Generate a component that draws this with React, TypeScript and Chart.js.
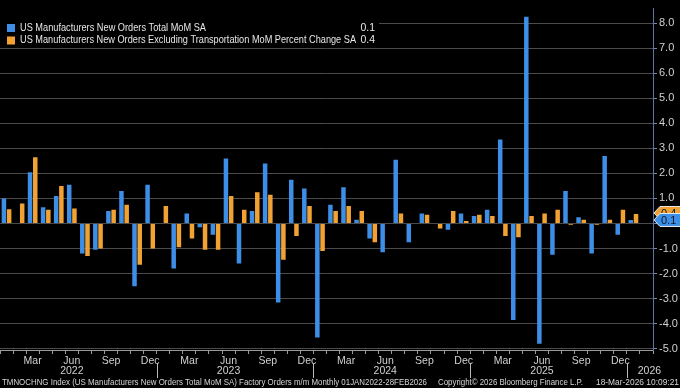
import React, { useEffect, useRef } from 'react';
import { Chart, registerables } from 'chart.js';

Chart.register(...registerables);

const categories = [
  'Jan 2022', 'Feb 2022', 'Mar 2022', 'Apr 2022', 'May 2022', 'Jun 2022', 'Jul 2022', 'Aug 2022', 'Sep 2022', 'Oct 2022', 'Nov 2022', 'Dec 2022',
  'Jan 2023', 'Feb 2023', 'Mar 2023', 'Apr 2023', 'May 2023', 'Jun 2023', 'Jul 2023', 'Aug 2023', 'Sep 2023', 'Oct 2023', 'Nov 2023', 'Dec 2023',
  'Jan 2024', 'Feb 2024', 'Mar 2024', 'Apr 2024', 'May 2024', 'Jun 2024', 'Jul 2024', 'Aug 2024', 'Sep 2024', 'Oct 2024', 'Nov 2024', 'Dec 2024',
  'Jan 2025', 'Feb 2025', 'Mar 2025', 'Apr 2025', 'May 2025', 'Jun 2025', 'Jul 2025', 'Aug 2025', 'Sep 2025', 'Oct 2025', 'Nov 2025', 'Dec 2025',
  'Jan 2026', 'Feb 2026',
];

const totalMoM = [
  1.0, 0.0, 2.05, 0.65, 1.1, 1.55, -1.2, -1.05, 0.5, 1.3, -2.5, 1.55,
  0.0, -1.8, 0.4, -0.15, -0.45, 2.6, -1.6, 0.5, 2.4, -3.15, 1.75, 1.4,
  -4.55, 0.75, 1.45, 0.15, -0.6, -1.15, 2.55, -0.75, 0.4, 0.0, -0.25, 0.4,
  0.3, 0.55, 3.35, -3.85, 8.25, -4.8, -1.25, 1.3, 0.25, -1.2, 2.7, -0.45,
  0.14, null,
];

const exTransportMoM = [
  0.57, 0.8, 2.65, 0.55, 1.5, 0.6, -1.3, -1.0, 0.55, 0.75, -1.65, -1.0,
  0.7, -0.95, -0.6, -1.05, -1.05, 1.1, 0.55, 1.25, 1.15, -1.45, -0.5, 0.7,
  -1.1, 0.5, 0.7, 0.5, -0.75, 0.0, 0.4, 0.0, 0.35, -0.2, 0.5, 0.1,
  0.35, 0.3, -0.5, -0.55, 0.3, 0.4, 0.55, -0.05, 0.15, -0.05, 0.15, 0.55,
  0.38, null,
];

const seriesNames = [
  'US Manufacturers New Orders Total MoM SA',
  'US Manufacturers New Orders Excluding Transportation MoM Percent Change SA',
];
const seriesColors = ['#3d8ee6', '#f2a233'];
const quarterMonths = ['Mar', 'Jun', 'Sep', 'Dec'];
const yearLabels = ['2022', '2023', '2024', '2025', '2026'];
const yAxisMin = -5.05;
const yAxisMax = 8.58;
const footerLeft = 'TMNOCHNG Index (US Manufacturers New Orders Total MoM SA) Factory Orders m/m Monthly 01JAN2022-28FEB2026';
const footerMid = 'Copyright\u00a9 2026 Bloomberg Finance L.P.';
const footerRight = '18-Mar-2026 10:09:21';

const FONT = '"Liberation Sans", Arial, sans-serif';

function lastValue(arr: (number | null)[]) {
  for (let i = arr.length - 1; i >= 0; i--) if (arr[i] !== null) return arr[i] as number;
  return 0;
}

const overlayPlugin = {
  id: 'bbgOverlay',
  beforeDraw(chart: any) {
    const { ctx, width, height } = chart;
    ctx.save();
    ctx.fillStyle = '#000000';
    ctx.fillRect(0, 0, width, height);
    ctx.restore();
  },
  afterDraw(chart: any) {
    const { ctx } = chart;
    const x = chart.scales.x;
    const y = chart.scales.y;
    ctx.save();

    // Legend box
    ctx.fillStyle = '#000000';
    ctx.fillRect(0, 20, 379, 27);
    const rows = [28, 40.5];
    const vals = [lastValue(totalMoM), lastValue(exTransportMoM)];
    const maxW = [186, 336];
    ctx.font = `10.5px ${FONT}`;
    ctx.textBaseline = 'middle';
    for (let i = 0; i < 2; i++) {
      ctx.fillStyle = seriesColors[i];
      ctx.fillRect(7, rows[i] - 4, 8, 8);
      ctx.fillStyle = '#e6e6e6';
      ctx.textAlign = 'left';
      ctx.fillText(seriesNames[i], 20, rows[i], maxW[i]);
      ctx.textAlign = 'right';
      ctx.fillText(vals[i].toFixed(1), 375, rows[i]);
    }

    // Year labels and separators
    ctx.font = `10.5px ${FONT}`;
    ctx.fillStyle = '#d0d0d0';
    ctx.textAlign = 'center';
    ctx.textBaseline = 'middle';
    ctx.strokeStyle = '#bbbbbb';
    ctx.lineWidth = 1;
    yearLabels.forEach((yr, k) => {
      const junIdx = categories.indexOf('Jun ' + yr);
      let lx: number;
      if (junIdx >= 0) {
        lx = x.getPixelForValue(junIdx);
      } else {
        const janIdx = categories.indexOf('Jan ' + yr);
        lx = x.getPixelForValue(janIdx) + 16;
      }
      ctx.fillText(yr, lx, 371);
      if (k > 0) {
        const janIdx = categories.indexOf('Jan ' + yr);
        const sx = Math.round((x.getPixelForValue(janIdx) + x.getPixelForValue(janIdx - 1)) / 2) + 0.5;
        ctx.beginPath();
        ctx.moveTo(sx, 363);
        ctx.lineTo(sx, 378);
        ctx.stroke();
      }
    });

    // Footer
    ctx.font = `9px ${FONT}`;
    ctx.fillStyle = '#d6d6d6';
    ctx.textBaseline = 'middle';
    ctx.textAlign = 'left';
    ctx.fillText(footerLeft, 2, 382.5, 425);
    ctx.fillText(footerMid, 438, 382.5, 145);
    ctx.textAlign = 'right';
    ctx.fillText(footerRight, 679, 382.5, 83);

    // Value badges on the right axis
    const badge = (val: number, fill: string, dy: number) => {
      const cy = y.getPixelForValue(val) + dy;
      const left = chart.chartArea.right + 1;
      const right = 690;
      const h = 13;
      ctx.beginPath();
      ctx.moveTo(left, cy);
      ctx.lineTo(left + 6, cy - h / 2);
      ctx.lineTo(right, cy - h / 2);
      ctx.lineTo(right, cy + h / 2);
      ctx.lineTo(left + 6, cy + h / 2);
      ctx.closePath();
      ctx.fillStyle = fill;
      ctx.fill();
      ctx.strokeStyle = '#e8e8e8';
      ctx.lineWidth = 1;
      ctx.stroke();
      ctx.fillStyle = '#08162c';
      ctx.font = `11px ${FONT}`;
      ctx.textAlign = 'left';
      ctx.textBaseline = 'middle';
      ctx.fillText(val.toFixed(1), left + 7, cy + 0.5);
    };
    badge(vals[1], seriesColors[1], -1);
    badge(vals[0], seriesColors[0], 0);

    ctx.restore();
  },
};

export default function App() {
  const canvasRef = useRef<HTMLCanvasElement | null>(null);

  useEffect(() => {
    document.body.style.margin = '0';
    document.body.style.background = '#000';
    const canvas = canvasRef.current;
    if (!canvas) return;
    const chart = new Chart(canvas, {
      type: 'bar',
      data: {
        labels: categories,
        datasets: [
          {
            label: seriesNames[0],
            data: totalMoM,
            backgroundColor: seriesColors[0],
            categoryPercentage: 0.8,
            barPercentage: 0.86,
          },
          {
            label: seriesNames[1],
            data: exTransportMoM,
            backgroundColor: seriesColors[1],
            categoryPercentage: 0.8,
            barPercentage: 0.86,
          },
        ],
      },
      options: {
        animation: false,
        responsive: false,
        maintainAspectRatio: false,
        layout: { padding: 0 },
        plugins: {
          legend: { display: false },
          tooltip: { enabled: false },
          title: { display: false },
        },
        scales: {
          x: {
            type: 'category',
            offset: true,
            grid: {
              display: true,
              drawOnChartArea: false,
              drawTicks: true,
              tickLength: 4,
              tickColor: '#9a9a9a',
              offset: true,
            },
            border: { display: true, color: '#9a9a9a', width: 1 },
            ticks: {
              autoSkip: false,
              maxRotation: 0,
              minRotation: 0,
              padding: 1,
              color: '#d0d0d0',
              font: { family: FONT, size: 10.5 },
              callback: (_v: any, index: number) => {
                const m = categories[index].slice(0, 3);
                return quarterMonths.includes(m) ? m : '';
              },
            },
            afterFit: (scale: any) => {
              scale.height = 38;
            },
          },
          y: {
            type: 'linear',
            position: 'right',
            min: yAxisMin,
            max: yAxisMax,
            grid: {
              drawTicks: true,
              tickLength: 4,
              color: (c: any) => (c.tick && Number.isInteger(c.tick.value) ? '#4b4b4b' : 'rgba(0,0,0,0)'),
              tickColor: '#7189b8',
            },
            border: { display: true, color: '#5d73a0', width: 1 },
            ticks: {
              stepSize: 0.5,
              includeBounds: false,
              padding: 2,
              color: '#d0d0d0',
              font: { family: FONT, size: 11 },
              callback: (v: any) => (Number.isInteger(v) ? Number(v).toFixed(1) : ''),
            },
            afterFit: (scale: any) => {
              scale.width = 27;
            },
          },
        },
      },
      plugins: [overlayPlugin],
    });
    return () => chart.destroy();
  }, []);

  return (
    <div style={{ width: 680, height: 388, background: '#000' }}>
      <canvas ref={canvasRef} width={680} height={388} style={{ display: 'block', width: 680, height: 388 }} />
    </div>
  );
}
